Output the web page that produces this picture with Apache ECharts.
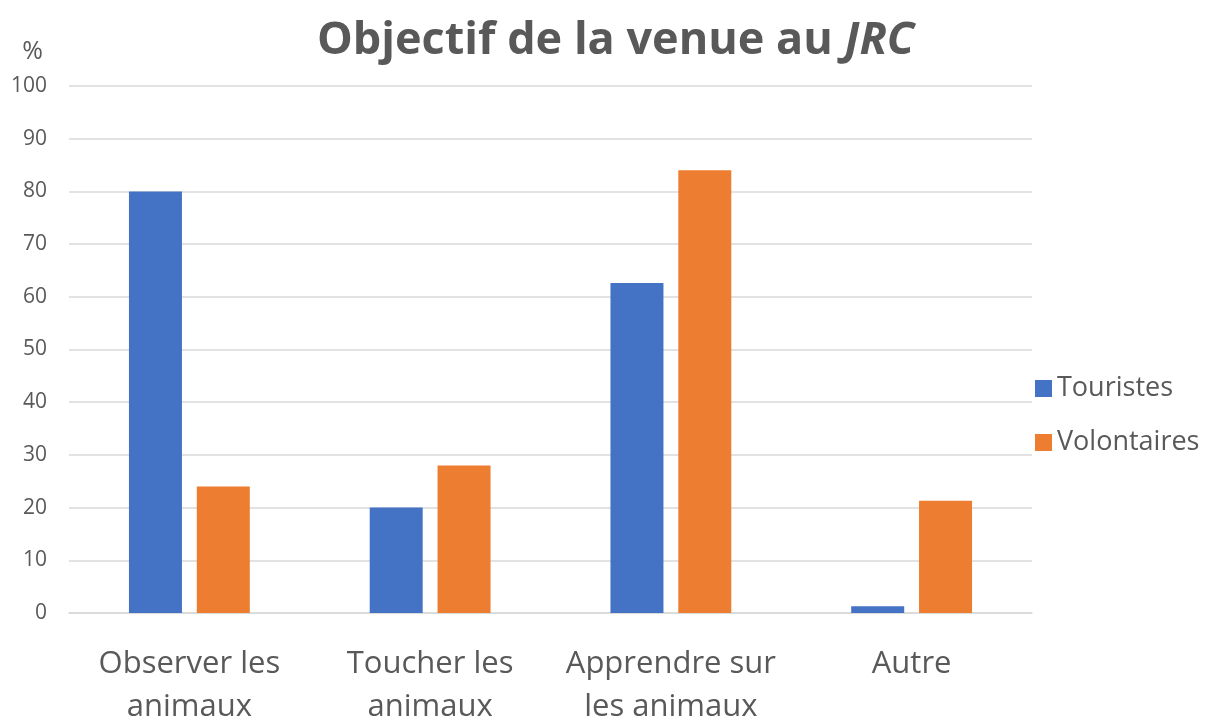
<!DOCTYPE html>
<html>
<head>
<meta charset="utf-8">
<script src="https://cdn.jsdelivr.net/npm/echarts@6/dist/echarts.min.js"></script>
<style>
  html,body{margin:0;padding:0;background:#fff;}
  #chart{width:1209px;height:719px;}
</style>
</head>
<body>
<div id="chart"></div>
<script>
const categories = ["Observer les\nanimaux", "Toucher les\nanimaux", "Apprendre sur\nles animaux", "Autre"];
const touristes = [80, 20, 62.6, 1.3];
const volontaires = [24, 28, 84, 21.3];
const yTicks = [0, 10, 20, 30, 40, 50, 60, 70, 80, 90, 100];

const grey = "#595959";
const font = "'Open Sans', 'Noto Sans', sans-serif";

let myChart = echarts.init(document.getElementById("chart"));
myChart.setOption({
    animation: false,
    textStyle: { fontFamily: font },
    title: {
        text: "{b|Objectif de la venue au }{i|JRC}",
        left: 312,
        top: 14,
        textStyle: {
            rich: {
                b: { fontSize: 45, fontWeight: "bold", color: grey, fontFamily: font },
                i: { fontSize: 45, fontWeight: "bold", fontStyle: "italic", color: grey, fontFamily: font }
            }
        }
    },
    legend: {
        orient: "vertical",
        left: 1030,
        top: 370,
        itemWidth: 17,
        itemHeight: 17,
        itemGap: 27,
        icon: "rect",
        textStyle: { fontSize: 27, color: grey, fontFamily: font },
        data: ["Touristes", "Volontaires"]
    },
    grid: {
        left: 69,
        right: 177,
        top: 86,
        bottom: 106,
        outerBoundsMode: "none"
    },
    xAxis: {
        type: "category",
        data: categories,
        axisLine: { show: true, lineStyle: { color: "#d9d9d9", width: 1.5 } },
        axisTick: { show: false },
        axisLabel: {
            color: grey,
            fontSize: 31,
            lineHeight: 43,
            margin: 30,
            interval: 0,
            fontFamily: font
        }
    },
    yAxis: {
        type: "value",
        min: yTicks[0],
        max: yTicks[yTicks.length - 1],
        interval: 10,
        name: "%",
        nameLocation: "end",
        nameGap: 22,
        nameTextStyle: { fontSize: 25, color: grey, align: "right", padding: [0, 26, 0, 0], fontFamily: font },
        axisLine: { show: false },
        axisTick: { show: false },
        splitLine: { lineStyle: { color: "#d9d9d9", width: 1.5 } },
        axisLabel: { color: grey, fontSize: 21, margin: 22, fontFamily: font }
    },
    series: [
        {
            name: "Touristes",
            type: "bar",
            data: touristes,
            barWidth: 53,
            barGap: "28%",
            itemStyle: { color: "#4472c4" }
        },
        {
            name: "Volontaires",
            type: "bar",
            data: volontaires,
            barWidth: 53,
            itemStyle: { color: "#ed7d31" }
        }
    ]
});
</script>
</body>
</html>
